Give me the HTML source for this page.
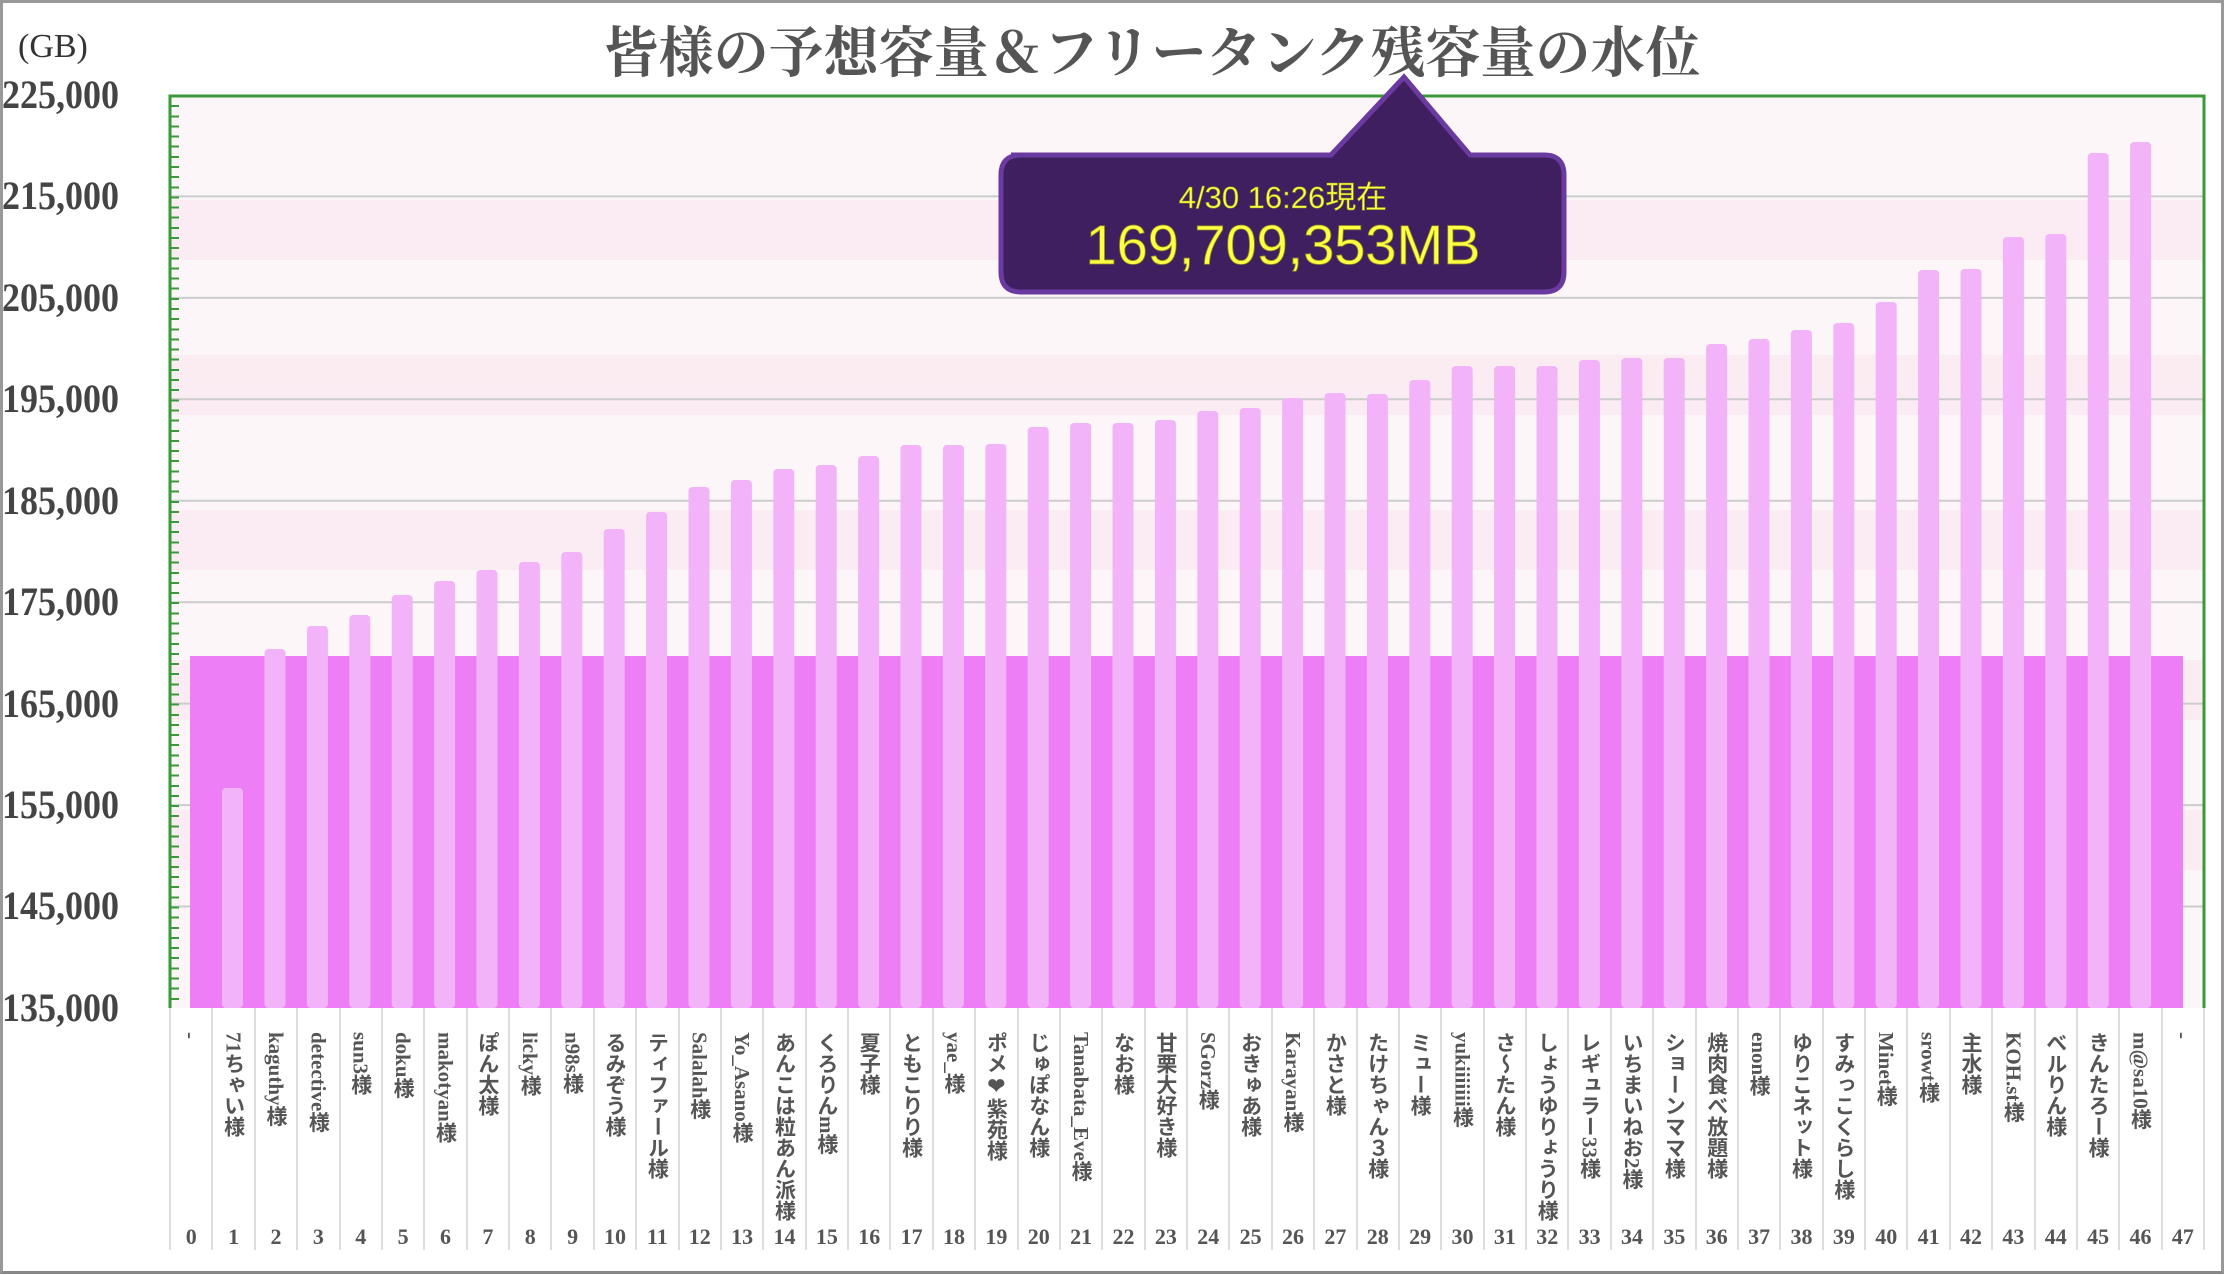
<!DOCTYPE html>
<html><head><meta charset="utf-8"><style>
html,body{margin:0;padding:0}
body{width:2224px;height:1275px;position:relative;background:#fff;overflow:hidden;font-family:"Liberation Serif","Noto Serif CJK JP",serif}
#frame{position:absolute;left:0;top:0;width:2218px;height:1268px;border:3px solid #999;border-bottom-color:#888}
.yl{position:absolute;left:2px;width:150px;text-align:left;font-size:40px;color:#444;transform:scaleX(0.9);transform-origin:left center;line-height:40px;font-weight:bold}
#title{position:absolute;left:0;width:2224px;top:16px;text-align:center;font-family:"Noto Serif CJK JP","Noto Serif CJK SC",serif;font-weight:bold;font-size:55px;color:#555;line-height:66px;padding-left:80px;box-sizing:border-box}
#gb{position:absolute;left:18px;top:28px;font-size:34px;color:#333}
#cols{position:absolute;left:169px;top:1008px;width:2036px;height:242px;display:flex}
.c{flex:1;border-left:2px solid #ddd;position:relative;box-sizing:border-box}
.c:last-child{border-right:2px solid #ddd}
.n{position:absolute;top:24px;left:0;right:0;margin:auto;writing-mode:vertical-rl;font-family:"Liberation Serif","Noto Sans CJK JP",serif;font-weight:bold;font-size:21px;color:#555;width:26px;line-height:26px}
.i{position:absolute;bottom:0;width:100%;text-align:center;font-weight:bold;font-size:22px;color:#555}
#ticks{position:absolute;left:171px;top:95px;width:8px;height:913px;background:repeating-linear-gradient(to bottom,#3a9a3a 0 2px,transparent 2px 10.144px)}
</style></head><body>
<div id="frame"></div>
<div id="gb">(GB)</div>
<div id="title">皆様の予想容量＆フリータンク残容量の水位</div>
<svg width="2224" height="1275" style="position:absolute;left:0;top:0">
<rect x="169" y="95" width="2035" height="913" fill="#fdf6f8"/>
<g fill="#f9e6ee" opacity="0.6">
<rect x="169" y="200" width="2035" height="60"/><rect x="169" y="355" width="2035" height="60"/><rect x="169" y="510" width="2035" height="60"/><rect x="169" y="660" width="2035" height="60"/><rect x="169" y="810" width="2035" height="60"/>
</g>
<g stroke="#ccc" stroke-width="2">
<line x1="169" x2="2204" y1="196.4" y2="196.4"/><line x1="169" x2="2204" y1="297.9" y2="297.9"/><line x1="169" x2="2204" y1="399.3" y2="399.3"/><line x1="169" x2="2204" y1="500.8" y2="500.8"/><line x1="169" x2="2204" y1="602.2" y2="602.2"/><line x1="169" x2="2204" y1="703.6" y2="703.6"/><line x1="169" x2="2204" y1="805.1" y2="805.1"/><line x1="169" x2="2204" y1="906.5" y2="906.5"/>
</g>
<rect x="190" y="656" width="1993" height="352" fill="#ee7ef5"/>
<g fill="#f2b3f8">
<rect x="222" y="788" width="21" height="220" rx="4"/>
<rect x="264.5" y="649" width="21" height="359" rx="4"/>
<rect x="306.9" y="626" width="21" height="382" rx="4"/>
<rect x="349.3" y="615" width="21" height="393" rx="4"/>
<rect x="391.7" y="595" width="21" height="413" rx="4"/>
<rect x="434.1" y="581" width="21" height="427" rx="4"/>
<rect x="476.5" y="570" width="21" height="438" rx="4"/>
<rect x="518.9" y="562" width="21" height="446" rx="4"/>
<rect x="561.3" y="552" width="21" height="456" rx="4"/>
<rect x="603.7" y="529" width="21" height="479" rx="4"/>
<rect x="646.1" y="512" width="21" height="496" rx="4"/>
<rect x="688.5" y="487" width="21" height="521" rx="4"/>
<rect x="730.9" y="480" width="21" height="528" rx="4"/>
<rect x="773.3" y="469" width="21" height="539" rx="4"/>
<rect x="815.7" y="465" width="21" height="543" rx="4"/>
<rect x="858.1" y="456" width="21" height="552" rx="4"/>
<rect x="900.5" y="445" width="21" height="563" rx="4"/>
<rect x="942.9" y="445" width="21" height="563" rx="4"/>
<rect x="985.3" y="444" width="21" height="564" rx="4"/>
<rect x="1027.7" y="427" width="21" height="581" rx="4"/>
<rect x="1070.1" y="423" width="21" height="585" rx="4"/>
<rect x="1112.5" y="423" width="21" height="585" rx="4"/>
<rect x="1154.9" y="420" width="21" height="588" rx="4"/>
<rect x="1197.3" y="411" width="21" height="597" rx="4"/>
<rect x="1239.7" y="408" width="21" height="600" rx="4"/>
<rect x="1282.1" y="398" width="21" height="610" rx="4"/>
<rect x="1324.5" y="393" width="21" height="615" rx="4"/>
<rect x="1366.9" y="394" width="21" height="614" rx="4"/>
<rect x="1409.3" y="380" width="21" height="628" rx="4"/>
<rect x="1451.7" y="366" width="21" height="642" rx="4"/>
<rect x="1494.1" y="366" width="21" height="642" rx="4"/>
<rect x="1536.5" y="366" width="21" height="642" rx="4"/>
<rect x="1578.9" y="360" width="21" height="648" rx="4"/>
<rect x="1621.3" y="358" width="21" height="650" rx="4"/>
<rect x="1663.7" y="358" width="21" height="650" rx="4"/>
<rect x="1706.1" y="344" width="21" height="664" rx="4"/>
<rect x="1748.5" y="339" width="21" height="669" rx="4"/>
<rect x="1790.9" y="330" width="21" height="678" rx="4"/>
<rect x="1833.3" y="323" width="21" height="685" rx="4"/>
<rect x="1875.7" y="302" width="21" height="706" rx="4"/>
<rect x="1918.1" y="270" width="21" height="738" rx="4"/>
<rect x="1960.5" y="269" width="21" height="739" rx="4"/>
<rect x="2002.9" y="237" width="21" height="771" rx="4"/>
<rect x="2045.3" y="234" width="21" height="774" rx="4"/>
<rect x="2087.7" y="153" width="21" height="855" rx="4"/>
<rect x="2130.1" y="142" width="21" height="866" rx="4"/>
</g>
<polyline points="170,1008 170,96 2204,96 2204,1008" fill="none" stroke="#3a9a3a" stroke-width="3"/>
<path d="M1011,155 L1331,155 L1404,77 L1470,155 L1544,155 Q1564,155 1564,175 L1564,272 Q1564,292 1544,292 L1021,292 Q1001,292 1001,272 L1001,175 Q1001,155 1021,155 Z" fill="#3f1f5f" stroke="#6a3aa0" stroke-width="5"/>
<text x="1283" y="208" text-anchor="middle" font-family="Liberation Sans, Noto Sans CJK JP, sans-serif" font-size="31" fill="#ffff44" stroke="#8a8a20" stroke-width="0.6">4/30 16:26現在</text>
<text x="1283" y="264" text-anchor="middle" font-family="Liberation Sans, Noto Sans CJK JP, sans-serif" font-size="56" fill="#ffff44" stroke="#8a8a20" stroke-width="0.8" textLength="395">169,709,353MB</text>
</svg>
<div id="ticks"></div>
<div class="yl" style="top:75px">225,000</div>
<div class="yl" style="top:176px">215,000</div>
<div class="yl" style="top:278px">205,000</div>
<div class="yl" style="top:379px">195,000</div>
<div class="yl" style="top:481px">185,000</div>
<div class="yl" style="top:582px">175,000</div>
<div class="yl" style="top:684px">165,000</div>
<div class="yl" style="top:785px">155,000</div>
<div class="yl" style="top:886px">145,000</div>
<div class="yl" style="top:988px">135,000</div>
<div id="cols">
<div class="c"><div class="n">-</div><div class="i">0</div></div>
<div class="c"><div class="n">71ちゃい様</div><div class="i">1</div></div>
<div class="c"><div class="n">kaguthy様</div><div class="i">2</div></div>
<div class="c"><div class="n">detective様</div><div class="i">3</div></div>
<div class="c"><div class="n">sun3様</div><div class="i">4</div></div>
<div class="c"><div class="n">doku様</div><div class="i">5</div></div>
<div class="c"><div class="n">makotyan様</div><div class="i">6</div></div>
<div class="c"><div class="n">ぽん太様</div><div class="i">7</div></div>
<div class="c"><div class="n">licky様</div><div class="i">8</div></div>
<div class="c"><div class="n">n98s様</div><div class="i">9</div></div>
<div class="c"><div class="n">るみぞう様</div><div class="i">10</div></div>
<div class="c"><div class="n">ティファール様</div><div class="i">11</div></div>
<div class="c"><div class="n">Salalah様</div><div class="i">12</div></div>
<div class="c"><div class="n">Yo_Asano様</div><div class="i">13</div></div>
<div class="c"><div class="n">あんこは粒あん派様</div><div class="i">14</div></div>
<div class="c"><div class="n">くろりんm様</div><div class="i">15</div></div>
<div class="c"><div class="n">夏子様</div><div class="i">16</div></div>
<div class="c"><div class="n">ともこりり様</div><div class="i">17</div></div>
<div class="c"><div class="n">yae_様</div><div class="i">18</div></div>
<div class="c"><div class="n">ポメ❤紫苑様</div><div class="i">19</div></div>
<div class="c"><div class="n">じゅぽなん様</div><div class="i">20</div></div>
<div class="c"><div class="n">Tanabata_Eve様</div><div class="i">21</div></div>
<div class="c"><div class="n">なお様</div><div class="i">22</div></div>
<div class="c"><div class="n">甘栗大好き様</div><div class="i">23</div></div>
<div class="c"><div class="n">SGorz様</div><div class="i">24</div></div>
<div class="c"><div class="n">おきゅあ様</div><div class="i">25</div></div>
<div class="c"><div class="n">Karayan様</div><div class="i">26</div></div>
<div class="c"><div class="n">かさと様</div><div class="i">27</div></div>
<div class="c"><div class="n">たけちゃん３様</div><div class="i">28</div></div>
<div class="c"><div class="n">ミュー様</div><div class="i">29</div></div>
<div class="c"><div class="n">yukiiiiiii様</div><div class="i">30</div></div>
<div class="c"><div class="n">さ～たん様</div><div class="i">31</div></div>
<div class="c"><div class="n">しょうゆりょうり様</div><div class="i">32</div></div>
<div class="c"><div class="n">レギュラー33様</div><div class="i">33</div></div>
<div class="c"><div class="n">いちまいねお2様</div><div class="i">34</div></div>
<div class="c"><div class="n">ショーンママ様</div><div class="i">35</div></div>
<div class="c"><div class="n">焼肉食べ放題様</div><div class="i">36</div></div>
<div class="c"><div class="n">enon様</div><div class="i">37</div></div>
<div class="c"><div class="n">ゆりこネット様</div><div class="i">38</div></div>
<div class="c"><div class="n">すみっこくらし様</div><div class="i">39</div></div>
<div class="c"><div class="n">Minet様</div><div class="i">40</div></div>
<div class="c"><div class="n">srowt様</div><div class="i">41</div></div>
<div class="c"><div class="n">主水様</div><div class="i">42</div></div>
<div class="c"><div class="n">KOH.st様</div><div class="i">43</div></div>
<div class="c"><div class="n">べルりん様</div><div class="i">44</div></div>
<div class="c"><div class="n">きんたろー様</div><div class="i">45</div></div>
<div class="c"><div class="n">m@sa10様</div><div class="i">46</div></div>
<div class="c"><div class="n">-</div><div class="i">47</div></div>
</div>
</body></html>
